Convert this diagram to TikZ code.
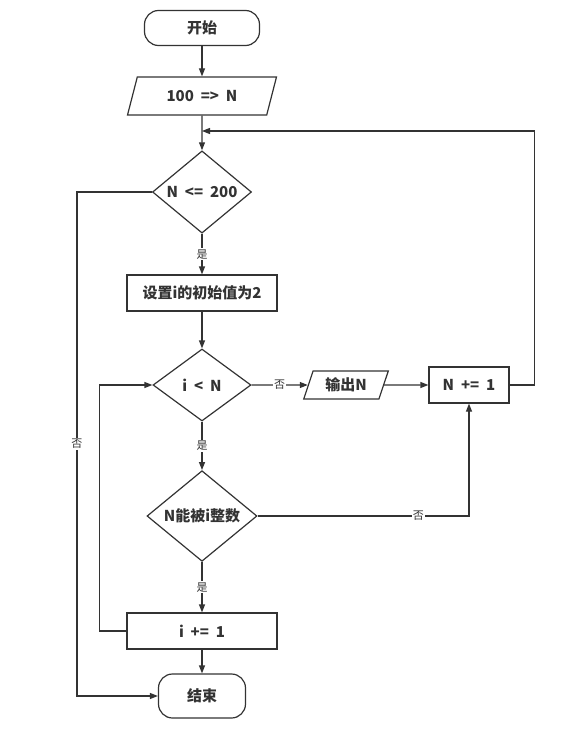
\documentclass[tikz,border=0pt]{standalone}
\usepackage{fontspec}
\setmainfont{Noto Sans CJK SC}[WordSpace=2]
\usetikzlibrary{shapes.geometric,arrows.meta}

\begin{document}
\begin{tikzpicture}[
        x=1pt, y=-1pt, >={Triangle[length=8pt,width=6pt]}, line width=1.2pt, color=black!80,
        every node/.style={font=\fontsize{15}{18}\selectfont\bfseries},
        term/.style={draw, rectangle, rounded corners=14pt},
        io/.style={draw, trapezium, trapezium left angle=72, trapezium right angle=108, trapezium stretches=true},
        proc/.style={draw, rectangle, minimum width=150pt, minimum height=36pt},
        cond/.style={draw, diamond, inner sep=0pt},
        lbl/.style={fill=white, inner sep=1pt, font=\fontsize{11}{13}\selectfont}
      ]
        \useasboundingbox (0,0) rectangle (564,731);
        \node[term, minimum width=115pt, minimum height=35pt] (start) at (202,28) {开始};
        \node[io, minimum width=149pt, minimum height=38pt] (setN) [node distance=68pt, below of=start] {100 => N};
        \node[cond, minimum width=99pt, minimum height=71pt] (chk) [node distance=96pt, below of=setN] {N <= 200};
        \node[proc] (init) [node distance=101pt, below of=chk] {设置i的初始值为2};
        \node[cond, minimum width=98pt, minimum height=72pt] (loop) [node distance=92pt, below of=init] {i < N};
        \node[io, minimum width=85pt, minimum height=28pt] (out) [node distance=144pt, right of=loop] {输出N};
        \node[proc, minimum width=80pt] (incN) [node distance=123pt, right of=out] {N += 1};
        \node[cond, minimum width=110pt, minimum height=80pt] (div) [node distance=131pt, below of=loop] {N能被i整数};
        \node[proc] (inci) [node distance=115pt, below of=div] {i += 1};
        \node[term, minimum width=87pt, minimum height=44pt] (stop) [node distance=65pt, below of=inci] {结束};
        \coordinate (back) at (202,131);

        \draw[->] (start) -- (setN);
        \draw[->] (setN) -- (chk);
        \draw[->] (chk) -- node[lbl] {是} (init);
        \draw[->] (chk.west) -- ++(-75,0) |- (stop.west) node[lbl, pos=0.25] {否};
        \draw[->] (init) -- (loop);
        \draw[->] (loop) -- node[lbl] {否} (out);
        \draw[->] (out) -- (incN);
        \draw[->] (incN.east) -- ++(25,0) |- (back);
        \draw[->] (loop) -- node[lbl] {是} (div);
        \draw[->] (div.east) -| (incN.south) node[lbl, pos=0.38] {否};
        \draw[->] (div) -- node[lbl] {是} (inci);
        \draw[->] (inci.west) -- ++(-27,0) |- (loop.west);
        \draw[->] (inci) -- (stop);
      \end{tikzpicture}
\end{document}
